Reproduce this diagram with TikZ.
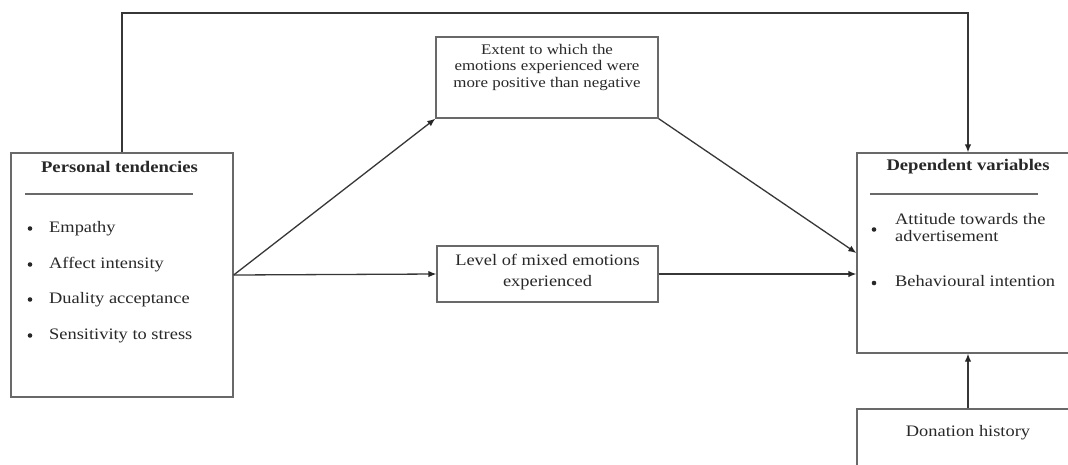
\documentclass[tikz,border=0pt]{standalone}
\usepackage{fontspec}
\setmainfont{Liberation Serif}[FakeStretch=1.15]
\usetikzlibrary{arrows.meta}
\definecolor{linegray}{RGB}{105,105,105}
\definecolor{conngray}{RGB}{55,55,55}
\definecolor{textgray}{RGB}{40,40,40}
\begin{document}
\begin{tikzpicture}[x=1pt,y=-1pt,
  box/.style={draw=linegray,line width=1.3pt,inner sep=0pt},
  conn/.style={draw=conngray,line width=1.3pt,-{Latex[length=8pt,width=6.5pt,color=black!85]}},
  rulebar/.style={draw=linegray,line width=1.2pt},
  txt/.style={text=textgray,inner sep=0pt,font=\fontsize{16}{17.5}\selectfont},
  hdr/.style={txt,font=\fontsize{16.2}{17.5}\selectfont\bfseries},
  itm/.style={txt,anchor=mid west,yshift=-1.8pt},
  bul/.style={circle,fill=textgray,inner sep=0pt,minimum size=4.6pt}]
\useasboundingbox (0,0) rectangle (1068,464);
\fill[white] (0,0) rectangle (1068,464);
\clip (0,0) rectangle (1068,464);

% boxes
\node[box,minimum width=222pt,minimum height=244pt] (PT) at (122,275) {};
\node[box,minimum width=222pt,minimum height=81pt] (EXT) at (547,77.5) {};
\node[box,minimum width=221pt,minimum height=56pt] (LVL) at (547.5,274) {};
\node[box,minimum width=222pt,minimum height=200pt] (DV) at (968,253) {};
\node[box,minimum width=222pt,minimum height=80pt] (DON) at (968,449) {};

% personal tendencies
\node[hdr] (pthead) at (119.5,167) {Personal tendencies};
\draw[rulebar] (25,194) -- (193,194);
\node[bul] (b1) at (30,228.5) {};
\node[itm] (t1) at (49,228) {Empathy};
\node[bul] (b2) at (30,264.5) {};
\node[itm] (t2) at (49,264) {Affect intensity};
\node[bul] (b3) at (30,299.5) {};
\node[itm] (t3) at (49,299) {Duality acceptance};
\node[bul] (b4) at (30,335.5) {};
\node[itm] (t4) at (49,335) {Sensitivity to stress};

% mediators
\node[txt,align=center,font=\fontsize{14.7}{16.5}\selectfont] (exttxt) at (547,67)
  {Extent to which the\\emotions experienced were\\more positive than negative};
\node[txt,align=center,font=\fontsize{16}{20.5}\selectfont] (lvltxt) at (547.5,272)
  {Level of mixed emotions\\experienced};

% dependent variables
\node[hdr] (dvhead) at (968,167) {Dependent variables};
\draw[rulebar] (870,194) -- (1038,194);
\node[bul] (b5) at (874,229.5) {};
\node[itm,align=left] (t5) at (895,237.5) {Attitude towards the\\advertisement};
\node[bul] (b6) at (874,283) {};
\node[itm] (t6) at (895,282) {Behavioural intention};

% donation history
\node[txt] (dontxt) at (968,433) {Donation history};

% connectors
\coordinate (topline) at (0,13);
\draw[conn] (PT.north) -- (PT.north |- topline) -- (DV.north |- topline) -- (DV.north);
\draw[conn] (PT.east) -- (EXT.south west);
\draw[conn] (PT.east) -- (LVL.west);
\draw[conn] (EXT.south east) -- (DV.west);
\draw[conn] (LVL.east) -- (LVL.east -| DV.west);
\draw[conn] (DON.north) -- (DV.south);
\end{tikzpicture}
\end{document}
